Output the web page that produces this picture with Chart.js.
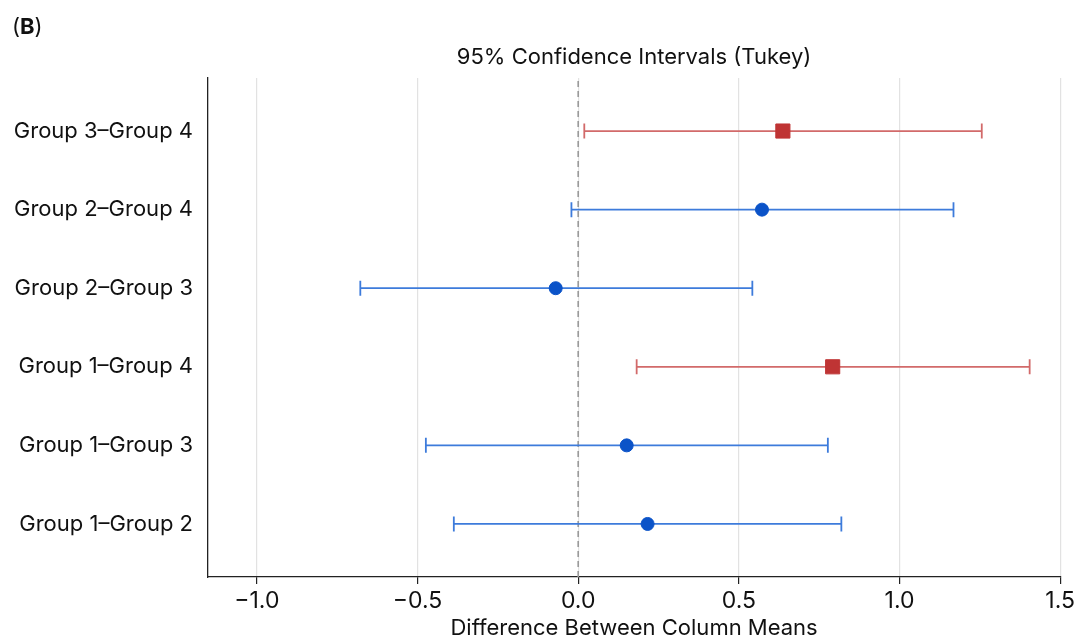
<!DOCTYPE html>
<html>
<head>
<meta charset="utf-8">
<script src="https://cdn.jsdelivr.net/npm/chart.js@4/dist/chart.umd.min.js"></script>
<style>
  html, body { margin: 0; padding: 0; background: #fff; }
  #wrap { position: relative; width: 1078px; height: 639px; }
  #panel { position: absolute; left: 12px; top: 13px; font-family: Inter, "Liberation Sans", sans-serif; font-size: 22px; line-height: 1.2; color: #111; }
  #panel b { font-weight: 700; }
</style>
</head>
<body>
<div id="wrap">
  <div id="panel">(<b>B</b>)</div>
  <canvas id="c" width="1078" height="639"></canvas>
</div>
<script>
// Comparisons listed bottom to top
const comparisons = ['Group 1–Group 2', 'Group 1–Group 3', 'Group 1–Group 4', 'Group 2–Group 3', 'Group 2–Group 4', 'Group 3–Group 4'];
const meanDiff = [0.216, 0.151, 0.792, -0.070, 0.572, 0.637];
const lowerCI  = [-0.387, -0.474, 0.182, -0.678, -0.021, 0.019];
const upperCI  = [0.819, 0.777, 1.405, 0.542, 1.168, 1.256];
const significant = [false, false, true, false, false, true];
const xTickValues = [-1.0, -0.5, 0.0, 0.5, 1.0, 1.5];
const xTickLabels = ['−1.0', '−0.5', '0.0', '0.5', '1.0', '1.5'];
const xMin = -1.152, xMax = 1.5;
const yMin = -0.675, yMax = comparisons.length - 1 + 0.675;

const RED_MARK = '#bf3434', RED_LINE = '#d26a6a';
const BLUE_MARK = '#0b53c8', BLUE_LINE = '#3d7bdb';
const FONT = 'Inter, "Liberation Sans", sans-serif';

const datasets = [];
datasets.push({
  type: 'line',
  data: [{x: 0, y: yMin}, {x: 0, y: yMax}],
  borderColor: '#9a9a9a',
  borderWidth: 1.6,
  borderDash: [6, 4],
  pointRadius: 0,
  order: 10
});
comparisons.forEach((c, i) => {
  const col = significant[i] ? RED_LINE : BLUE_LINE;
  datasets.push({
    type: 'line',
    data: [{x: lowerCI[i], y: i}, {x: upperCI[i], y: i}],
    borderColor: col,
    borderWidth: 1.8,
    pointStyle: 'line',
    rotation: 90,
    pointRadius: 7.5,
    pointBorderColor: col,
    pointBorderWidth: 1.8,
    order: 5
  });
});
datasets.push({
  type: 'scatter',
  data: comparisons.map((c, i) => ({x: meanDiff[i], y: i})),
  pointStyle: significant.map(s => s ? 'rect' : 'circle'),
  pointRadius: significant.map(s => s ? 10 : 6.5),
  pointBackgroundColor: significant.map(s => s ? RED_MARK : BLUE_MARK),
  pointBorderColor: significant.map(s => s ? RED_MARK : BLUE_MARK),
  pointBorderWidth: 1,
  order: 1
});

new Chart(document.getElementById('c'), {
  type: 'scatter',
  data: { datasets },
  options: {
    responsive: false,
    animation: false,
    events: [],
    layout: { padding: { left: 0, right: 17, top: 0, bottom: 0 } },
    plugins: {
      legend: { display: false },
      tooltip: { enabled: false },
      title: {
        display: true,
        fullSize: false,
        text: '95% Confidence Intervals (Tukey)',
        color: '#111',
        font: { family: FONT, size: 22, weight: 'normal', lineHeight: 1.2 },
        padding: { top: 44, bottom: 7.6 }
      }
    },
    scales: {
      x: {
        type: 'linear',
        min: xMin, max: xMax,
        afterBuildTicks: s => { s.ticks = xTickValues.map(v => ({value: v})); },
        afterFit: s => { s.height = 62; },
        ticks: {
          callback: (v, idx) => xTickLabels[idx],
          color: '#111',
          font: { family: FONT, size: 23, lineHeight: 1.2 },
          padding: 3,
          maxRotation: 0
        },
        grid: { color: '#e2e2e2', lineWidth: 1.2, tickColor: '#222', tickLength: 7, drawTicks: true },
        border: { display: true, color: '#222', width: 1.3 },
        title: {
          display: true,
          text: 'Difference Between Column Means',
          color: '#111',
          font: { family: FONT, size: 22, lineHeight: 1.0 },
          padding: { top: 0, bottom: 0 }
        }
      },
      y: {
        type: 'linear',
        min: yMin, max: yMax,
        afterBuildTicks: s => { s.ticks = comparisons.map((c, i) => ({value: i})); },
        afterFit: s => { s.width = 208; },
        ticks: {
          callback: v => comparisons[v],
          color: '#111',
          font: { family: FONT, size: 22 },
          padding: 15
        },
        grid: { display: false, drawTicks: false },
        border: { display: true, color: '#222', width: 1.3 }
      }
    }
  }
});
</script>
</body>
</html>
